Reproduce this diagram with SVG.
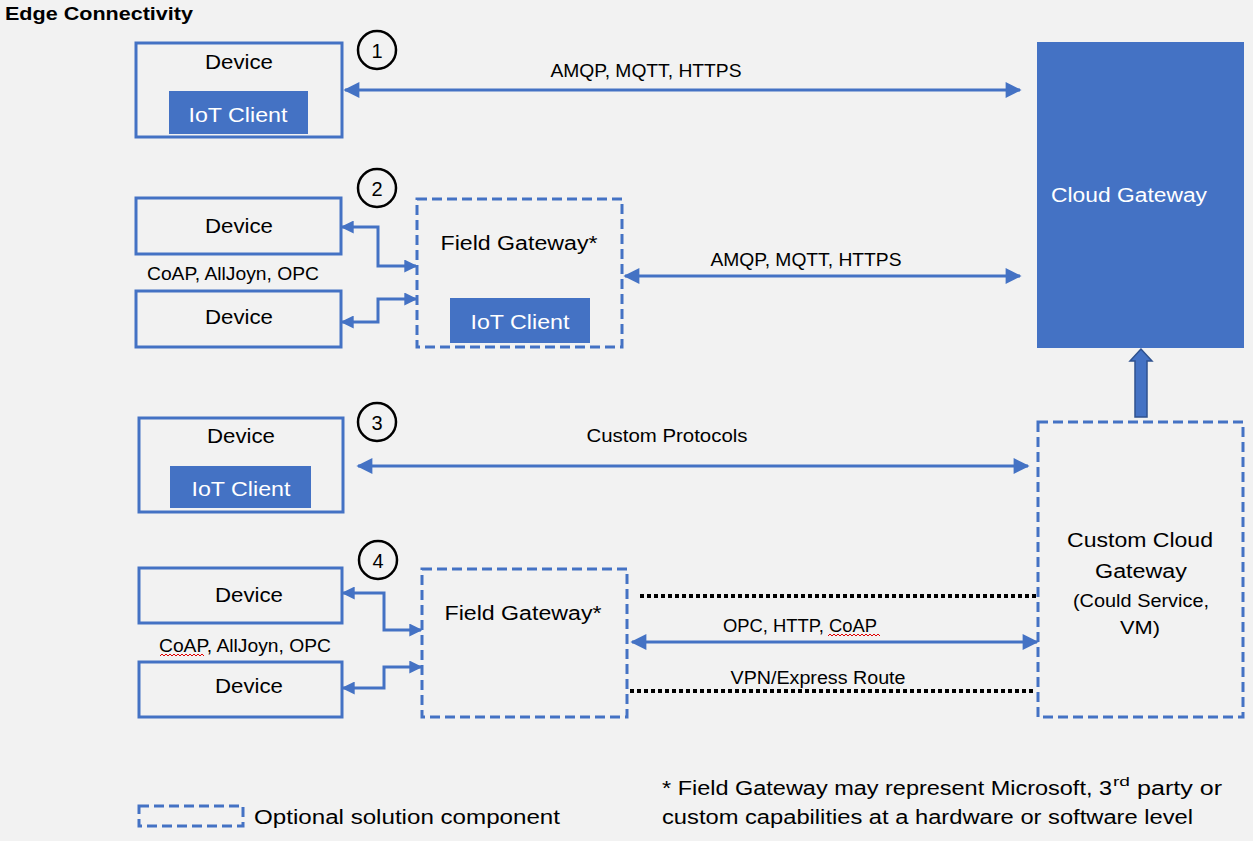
<svg xmlns="http://www.w3.org/2000/svg" width="1253" height="841" viewBox="0 0 1253 841">
<style>
text{font-family:"Liberation Sans",Arial,sans-serif;fill:#000}
.lg{font-size:20px}
.md{font-size:17.5px}
.c{text-anchor:middle}
.w{fill:#fff}
.box{fill:none;stroke:#4472C4;stroke-width:3}
.dbox{fill:none;stroke:#4472C4;stroke-width:3;stroke-dasharray:10 5}
.fill{fill:#4472C4}
.num{fill:none;stroke:#000;stroke-width:2.5}
.con{fill:none;stroke:#4472C4;stroke-width:3}
.dot{fill:none;stroke:#000;stroke-width:4;stroke-dasharray:4 3}
.sq{fill:none;stroke:#E00000;stroke-width:1}
</style>
<defs>
<marker id="ah" viewBox="0 0 10 10" refX="9" refY="5" markerWidth="18" markerHeight="16" orient="auto-start-reverse" markerUnits="userSpaceOnUse"><path d="M0,0 L10,5 L0,10 z" fill="#4472C4"/></marker>
<marker id="as" viewBox="0 0 10 10" refX="9" refY="5" markerWidth="13" markerHeight="13" orient="auto-start-reverse" markerUnits="userSpaceOnUse"><path d="M0,0 L10,5 L0,10 z" fill="#4472C4"/></marker>
</defs>
<rect width="1253" height="841" fill="#F2F2F2"/>
<text x="5" y="20" style="font-size:18px;font-weight:bold" textLength="188" lengthAdjust="spacingAndGlyphs">Edge Connectivity</text>

<g id="connectors">
<line class="con" x1="345" y1="90" x2="1020" y2="90" marker-start="url(#ah)" marker-end="url(#ah)"/>
<line class="con" x1="625" y1="276" x2="1020" y2="276" marker-start="url(#ah)" marker-end="url(#ah)"/>
<path class="con" d="M342,227 H378 V266 H416" marker-start="url(#as)" marker-end="url(#as)"/>
<path class="con" d="M342,322 H378 V299 H416" marker-start="url(#as)" marker-end="url(#as)"/>
<line class="con" x1="358" y1="466" x2="1028" y2="466" marker-start="url(#ah)" marker-end="url(#ah)"/>
<path class="con" d="M343,593 H384 V630 H421" marker-start="url(#as)" marker-end="url(#as)"/>
<path class="con" d="M343,688 H384 V667 H421" marker-start="url(#as)" marker-end="url(#as)"/>
<line class="con" x1="632" y1="642" x2="1037" y2="642" marker-start="url(#ah)" marker-end="url(#ah)"/>
<line class="dot" x1="640" y1="596" x2="1036" y2="596"/>
<line class="dot" x1="630" y1="691" x2="1036" y2="691"/>
<polygon points="1141,349 1130,361 1135,361 1135,417 1147,417 1147,361 1152,361" fill="#4472C4" stroke="#2F528F" stroke-width="1.5"/>
<text class="md c" x="646" y="77" textLength="191" lengthAdjust="spacingAndGlyphs">AMQP, MQTT, HTTPS</text>
<text class="md c" x="806" y="266" textLength="191" lengthAdjust="spacingAndGlyphs">AMQP, MQTT, HTTPS</text>
<text class="md c" x="233" y="280" textLength="172" lengthAdjust="spacingAndGlyphs">CoAP, AllJoyn, OPC</text>
<text class="md c" x="667" y="442" textLength="161" lengthAdjust="spacingAndGlyphs">Custom Protocols</text>
<text class="md c" x="245" y="652" textLength="172" lengthAdjust="spacingAndGlyphs">CoAP, AllJoyn, OPC</text>
<path class="sq" d="M160,656 l2,-2 l2,2 l2,-2 l2,2 l2,-2 l2,2 l2,-2 l2,2 l2,-2 l2,2 l2,-2 l2,2 l2,-2 l2,2 l2,-2 l2,2 l2,-2 l2,2 l2,-2 l2,2 l2,-2 l2,2"/>
<text class="md c" x="800" y="632" textLength="154" lengthAdjust="spacingAndGlyphs">OPC, HTTP, CoAP</text>
<path class="sq" d="M828,636 l2,-2 l2,2 l2,-2 l2,2 l2,-2 l2,2 l2,-2 l2,2 l2,-2 l2,2 l2,-2 l2,2 l2,-2 l2,2 l2,-2 l2,2 l2,-2 l2,2 l2,-2 l2,2 l2,-2 l2,2 l2,-2 l2,2 l2,-2 l2,2"/>
<text class="md c" x="818" y="684" textLength="175" lengthAdjust="spacingAndGlyphs">VPN/Express Route</text>
</g>

<g id="num1"><circle class="num" cx="377" cy="50" r="19"/><text class="lg c" x="377" y="58">1</text></g>
<g id="num2"><circle class="num" cx="377" cy="188" r="19"/><text class="lg c" x="377" y="196">2</text></g>
<g id="num3"><circle class="num" cx="377" cy="422" r="19"/><text class="lg c" x="377" y="430">3</text></g>
<g id="num4"><circle class="num" cx="378" cy="560" r="19"/><text class="lg c" x="378" y="568">4</text></g>

<g id="device1">
<rect class="box" x="136" y="43" width="206" height="94"/>
<text class="lg c" x="239" y="69" textLength="68" lengthAdjust="spacingAndGlyphs">Device</text>
<rect class="fill" x="169" y="91" width="139" height="43"/>
<text class="lg c w" x="238" y="122" textLength="99" lengthAdjust="spacingAndGlyphs">IoT Client</text>
</g>

<g id="cloud-gateway">
<rect class="fill" x="1037" y="42" width="207" height="306"/>
<text class="lg w" x="1051" y="202" textLength="156" lengthAdjust="spacingAndGlyphs">Cloud Gateway</text>
</g>

<g id="device2a">
<rect class="box" x="136" y="198" width="205" height="56"/>
<text class="lg c" x="239" y="233" textLength="68" lengthAdjust="spacingAndGlyphs">Device</text>
</g>
<g id="device2b">
<rect class="box" x="136" y="291" width="205" height="56"/>
<text class="lg c" x="239" y="324" textLength="68" lengthAdjust="spacingAndGlyphs">Device</text>
</g>
<g id="field-gateway2">
<rect class="dbox" x="417" y="199" width="205" height="148"/>
<text class="lg c" x="519" y="250" textLength="157" lengthAdjust="spacingAndGlyphs">Field Gateway*</text>
<rect class="fill" x="450" y="298" width="140" height="45"/>
<text class="lg c w" x="520" y="329" textLength="99" lengthAdjust="spacingAndGlyphs">IoT Client</text>
</g>

<g id="device3">
<rect class="box" x="139" y="418" width="204" height="94"/>
<text class="lg c" x="241" y="443" textLength="68" lengthAdjust="spacingAndGlyphs">Device</text>
<rect class="fill" x="170" y="466" width="141" height="42"/>
<text class="lg c w" x="241" y="496" textLength="99" lengthAdjust="spacingAndGlyphs">IoT Client</text>
</g>

<g id="custom-cloud-gateway">
<rect class="dbox" x="1038" y="422" width="205" height="295"/>
<text class="lg c" x="1140" y="547" textLength="146" lengthAdjust="spacingAndGlyphs">Custom Cloud</text>
<text class="lg c" x="1141" y="578" textLength="92" lengthAdjust="spacingAndGlyphs">Gateway</text>
<text class="md c" x="1141" y="607" textLength="136" lengthAdjust="spacingAndGlyphs">(Could Service,</text>
<text class="md c" x="1140" y="634" textLength="40" lengthAdjust="spacingAndGlyphs">VM)</text>
</g>

<g id="device4a">
<rect class="box" x="139" y="568" width="203" height="55"/>
<text class="lg c" x="249" y="602" textLength="68" lengthAdjust="spacingAndGlyphs">Device</text>
</g>
<g id="device4b">
<rect class="box" x="139" y="662" width="203" height="55"/>
<text class="lg c" x="249" y="693" textLength="68" lengthAdjust="spacingAndGlyphs">Device</text>
</g>
<g id="field-gateway4">
<rect class="dbox" x="422" y="569" width="205" height="148"/>
<text class="lg c" x="523" y="620" textLength="157" lengthAdjust="spacingAndGlyphs">Field Gateway*</text>
</g>

<g id="legend">
<rect class="dbox" x="139" y="806" width="104" height="20"/>
<text class="lg" x="254" y="824" textLength="306" lengthAdjust="spacingAndGlyphs">Optional solution component</text>
</g>
<g id="footnote">
<text class="lg" x="662" y="795" textLength="450" lengthAdjust="spacingAndGlyphs">* Field Gateway may represent Microsoft, 3</text>
<text x="1113" y="786" style="font-size:13px" textLength="17" lengthAdjust="spacingAndGlyphs">rd</text>
<text class="lg" x="1137" y="795" textLength="85" lengthAdjust="spacingAndGlyphs">party or</text>
<text class="lg" x="662" y="824" textLength="531" lengthAdjust="spacingAndGlyphs">custom capabilities at a hardware or software level</text>
</g>
</svg>
